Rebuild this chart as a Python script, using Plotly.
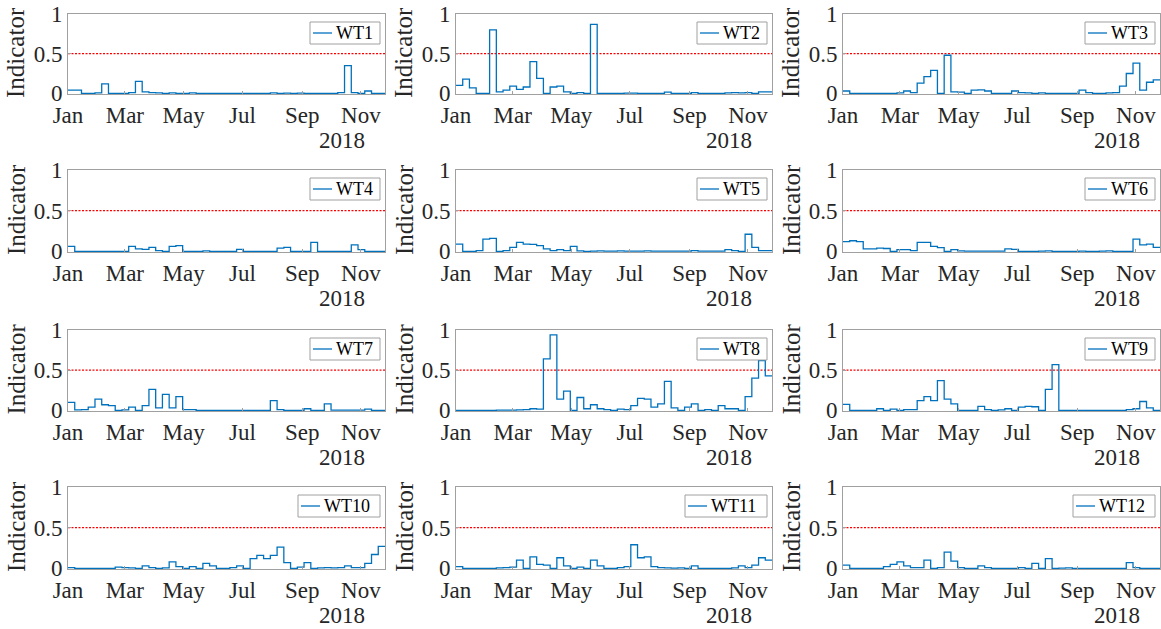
import plotly.graph_objects as go
import pandas as pd

# ---------------- data ----------------
dates = pd.date_range("2018-01-01", periods=48, freq="7D")

WT1 = [0.04, 0.04, 0.0, 0.0, 0.005, 0.12, 0.0, 0.0, 0.0, 0.01, 0.15, 0.02, 0.01, 0.005, 0.0, 0.005,
       0.0, 0.0, 0.005, 0.0, 0.0, 0.0, 0.0, 0.0, 0.0, 0.0, 0.0, 0.0, 0.0, 0.0, 0.005, 0.0,
       0.003, 0.0, 0.004, 0.0, 0.0, 0.0, 0.0, 0.0, 0.01, 0.35, 0.01, 0.0, 0.03, 0.0, 0.0, 0.0]
WT2 = [0.1, 0.18, 0.07, 0.0, 0.0, 0.8, 0.02, 0.04, 0.09, 0.05, 0.08, 0.40, 0.19, 0.0, 0.08, 0.09,
       0.02, 0.0, 0.01, 0.0, 0.87, 0.0, 0.0, 0.0, 0.0, 0.003, 0.003, 0.0, 0.0, 0.0, 0.0, 0.015,
       0.0, 0.0, 0.0, 0.01, 0.0, 0.0, 0.0, 0.0, 0.005, 0.01, 0.005, 0.01, 0.0, 0.02, 0.02, 0.02]
WT3 = [0.03, 0.0, 0.0, 0.0, 0.0, 0.0, 0.0, 0.0, 0.005, 0.03, 0.01, 0.13, 0.21, 0.29, 0.0, 0.48,
       0.02, 0.015, 0.0, 0.04, 0.045, 0.03, 0.0, 0.0, 0.0, 0.03, 0.01, 0.005, 0.0, 0.005, 0.0, 0.0,
       0.0, 0.0, 0.0, 0.04, 0.01, 0.0, 0.0, 0.005, 0.01, 0.09, 0.25, 0.38, 0.04, 0.14, 0.17, 0.17]
WT4 = [0.06, 0.0, 0.0, 0.0, 0.0, 0.0, 0.0, 0.0, 0.0, 0.06, 0.03, 0.025, 0.05, 0.01, 0.0, 0.06,
       0.07, 0.0, 0.0, 0.0, 0.005, 0.0, 0.0, 0.0, 0.0, 0.025, 0.0, 0.0, 0.0, 0.0, 0.0, 0.04,
       0.05, 0.0, 0.0, 0.0, 0.11, 0.0, 0.0, 0.0, 0.0, 0.0, 0.08, 0.02, 0.0, 0.0, 0.0, 0.0]
WT5 = [0.09, 0.0, 0.0, 0.01, 0.15, 0.16, 0.0, 0.01, 0.05, 0.11, 0.09, 0.085, 0.07, 0.03, 0.01, 0.02,
       0.01, 0.06, 0.005, 0.0, 0.003, 0.005, 0.003, 0.003, 0.005, 0.003, 0.003, 0.003, 0.005, 0.003, 0.003, 0.003,
       0.003, 0.003, 0.003, 0.01, 0.003, 0.003, 0.003, 0.003, 0.02, 0.01, 0.0, 0.21, 0.05, 0.01, 0.01, 0.015]
WT6 = [0.12, 0.13, 0.12, 0.03, 0.03, 0.04, 0.035, 0.0, 0.02, 0.02, 0.01, 0.11, 0.11, 0.06, 0.045, 0.0,
       0.02, 0.005, 0.003, 0.003, 0.003, 0.003, 0.003, 0.003, 0.03, 0.025, 0.0, 0.0, 0.0, 0.003, 0.005, 0.0,
       0.0, 0.0, 0.0, 0.003, 0.0, 0.0, 0.003, 0.005, 0.0, 0.0, 0.0, 0.15, 0.08, 0.09, 0.05, 0.04]
WT7 = [0.1, 0.005, 0.01, 0.04, 0.14, 0.07, 0.06, 0.0, 0.005, 0.04, 0.0, 0.06, 0.26, 0.03, 0.2, 0.03,
       0.17, 0.01, 0.01, 0.0, 0.0, 0.0, 0.0, 0.0, 0.0, 0.0, 0.0, 0.0, 0.0, 0.0, 0.12, 0.01,
       0.0, 0.0, 0.0, 0.02, 0.0, 0.0, 0.08, 0.003, 0.003, 0.003, 0.003, 0.003, 0.015, 0.0, 0.0, 0.0]
WT8 = [0.0, 0.0, 0.0, 0.0, 0.0, 0.0, 0.003, 0.003, 0.003, 0.005, 0.01, 0.02, 0.015, 0.64, 0.94, 0.14,
       0.24, 0.0, 0.16, 0.02, 0.07, 0.02, 0.01, 0.0, 0.015, 0.01, 0.06, 0.15, 0.14, 0.04, 0.08, 0.36,
       0.03, 0.0, 0.04, 0.08, 0.0, 0.01, 0.0, 0.06, 0.02, 0.02, 0.0, 0.17, 0.40, 0.62, 0.43, 0.43]
WT9 = [0.075, 0.0, 0.0, 0.0, 0.0, 0.02, 0.0, 0.015, 0.0, 0.01, 0.01, 0.12, 0.17, 0.12, 0.37, 0.14,
       0.08, 0.0, 0.0, 0.0, 0.05, 0.01, 0.0, 0.005, 0.02, 0.0, 0.04, 0.05, 0.045, 0.0, 0.26, 0.57,
       0.0, 0.0, 0.0, 0.0, 0.0, 0.0, 0.0, 0.0, 0.0, 0.0, 0.01, 0.02, 0.11, 0.03, 0.0, 0.0]
WT10 = [0.01, 0.0, 0.0, 0.0, 0.0, 0.0, 0.0, 0.015, 0.01, 0.005, 0.0, 0.03, 0.01, 0.0, 0.005, 0.08,
        0.02, 0.0, 0.02, 0.0, 0.06, 0.03, 0.0, 0.0, 0.01, 0.03, 0.0, 0.12, 0.16, 0.12, 0.16, 0.26,
        0.07, 0.0, 0.015, 0.07, 0.0, 0.005, 0.01, 0.005, 0.01, 0.03, 0.01, 0.01, 0.06, 0.17, 0.27, 0.27]
WT11 = [0.02, 0.0, 0.0, 0.0, 0.0, 0.0, 0.005, 0.01, 0.015, 0.1, 0.0, 0.14, 0.05, 0.04, 0.0, 0.13,
        0.03, 0.0, 0.015, 0.0, 0.1, 0.03, 0.0, 0.0, 0.01, 0.02, 0.29, 0.13, 0.14, 0.02, 0.01, 0.005,
        0.003, 0.005, 0.0, 0.03, 0.0, 0.0, 0.0, 0.0, 0.0, 0.005, 0.03, 0.01, 0.04, 0.13, 0.1, 0.1]
WT12 = [0.04, 0.0, 0.0, 0.0, 0.0, 0.0, 0.02, 0.05, 0.08, 0.03, 0.01, 0.01, 0.1, 0.0, 0.01, 0.2,
        0.09, 0.01, 0.0, 0.0, 0.03, 0.01, 0.0, 0.0, 0.0, 0.0, 0.01, 0.0, 0.06, 0.0, 0.12, 0.0,
        0.003, 0.005, 0.0, 0.0, 0.0, 0.0, 0.0, 0.0, 0.0, 0.0, 0.07, 0.01, 0.0, 0.0, 0.0, 0.0]

names = ["WT1", "WT2", "WT3", "WT4", "WT5", "WT6", "WT7", "WT8", "WT9", "WT10", "WT11", "WT12"]
series = [WT1, WT2, WT3, WT4, WT5, WT6, WT7, WT8, WT9, WT10, WT11, WT12]
threshold = 0.5

tick_dates = ["2018-01-01", "2018-03-01", "2018-05-01", "2018-07-01", "2018-09-01", "2018-11-01"]
tick_text = ["Jan", "Mar", "May", "Jul", "Sep", "Nov"]
y_ticks = [0, 0.5, 1]
y_text = ["0", "0.5", "1"]
year_label = "2018"
y_title = "Indicator"

# ---------------- layout geometry ----------------
W, H = 1161, 629
col_px = [(68, 385), (456, 772), (843, 1160)]
row_px = [(14, 94), (170, 252), (330, 411), (487, 569)]

FONT = "Liberation Serif"
TXT = "#262626"
AXC = "#a0a0a0"
BLUE = "#0072BD"

fig = go.Figure()
layout = dict(
    width=W, height=H,
    margin=dict(l=0, r=0, t=0, b=0, autoexpand=False),
    paper_bgcolor="white", plot_bgcolor="white",
    showlegend=False,
    font=dict(family=FONT, color=TXT),
)
annotations = []
shapes = []


def px(x):
    return x / W


def py(y):
    return 1 - y / H


for k, (name, vals) in enumerate(zip(names, series)):
    r, c = divmod(k, 3)
    s = "" if k == 0 else str(k + 1)
    x0, x1 = col_px[c]
    y0, y1 = row_px[r]

    fig.add_trace(go.Scatter(
        x=[dates[0], dates[-1]], y=[threshold, threshold], mode="lines",
        line=dict(color="#FF0000", width=1.2, dash="2px,1.5px"),
        xaxis="x" + s, yaxis="y" + s, hoverinfo="skip", showlegend=False))
    fig.add_trace(go.Scatter(
        x=dates, y=vals, mode="lines", name=name,
        line=dict(color=BLUE, width=1.3, shape="hv"),
        xaxis="x" + s, yaxis="y" + s, showlegend=False))

    layout["xaxis" + s] = dict(
        domain=[px(x0), px(x1)], anchor="y" + s, type="date",
        range=[dates[0], dates[-1]], automargin=False,
        tickvals=tick_dates, ticktext=tick_text,
        showline=True, mirror=True, linecolor=AXC, linewidth=1,
        ticks="inside", ticklen=3, tickcolor=AXC,
        showgrid=False, zeroline=False,
        tickfont=dict(family=FONT, size=23, color=TXT),
    )
    layout["yaxis" + s] = dict(
        domain=[py(y1), py(y0)], anchor="x" + s,
        range=[-0.008, 1.0], automargin=False,
        tickvals=y_ticks, ticktext=y_text,
        showline=True, mirror=True, linecolor=AXC, linewidth=1,
        ticks="inside", ticklen=3, tickcolor=AXC,
        showgrid=False, zeroline=False,
        tickfont=dict(family=FONT, size=23, color=TXT),
    )

    # y-axis title
    annotations.append(dict(
        text=y_title, xref="paper", yref="paper",
        x=px(x0 - 52), y=py((y0 + y1) / 2 - 1),
        xanchor="center", yanchor="middle", textangle=-90, showarrow=False,
        font=dict(family=FONT, size=25, color=TXT)))
    # year label under the date axis
    annotations.append(dict(
        text=year_label, xref="paper", yref="paper",
        x=px(x1 - 43), y=py(y1 + 46),
        xanchor="center", yanchor="middle", showarrow=False,
        font=dict(family=FONT, size=23, color=TXT)))

    # legend box (MATLAB style, top-right inside the axes)
    lg_r = x1 - 5
    lg_l = lg_r - (34 + 12 * len(name))
    lg_t, lg_b = y0 + 8, y0 + 30
    lg_m = (lg_t + lg_b) / 2
    shapes.append(dict(
        type="rect", xref="paper", yref="paper", layer="above",
        x0=px(lg_l), x1=px(lg_r), y0=py(lg_b), y1=py(lg_t),
        line=dict(color=AXC, width=1), fillcolor="white"))
    shapes.append(dict(
        type="line", xref="paper", yref="paper", layer="above",
        x0=px(lg_l + 3), x1=px(lg_l + 22), y0=py(lg_m), y1=py(lg_m),
        line=dict(color=BLUE, width=1.3)))
    annotations.append(dict(
        text=name, xref="paper", yref="paper",
        x=px(lg_l + 24), y=py(lg_m),
        xanchor="left", yanchor="middle", showarrow=False,
        font=dict(family=FONT, size=18, color="#000000")))

layout["annotations"] = annotations
layout["shapes"] = shapes
fig.update_layout(**layout)
fig.write_html("out.html")
